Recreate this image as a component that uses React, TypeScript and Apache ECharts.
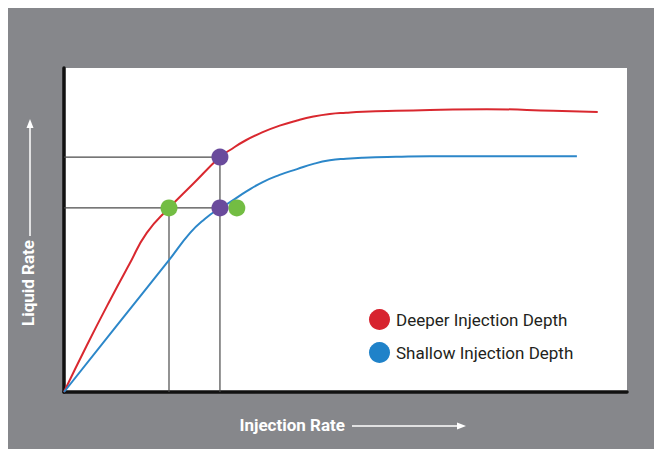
import React, { useEffect, useRef } from "react";
import * as echarts from "echarts";

const deeperCurve: [number, number][] = [
  [0, 0], [4.0, 14.2], [8.2, 28.4], [11.6, 39.4], [14.7, 49.1], [18.65, 56.8],
  [22.9, 64.2], [27.7, 72.5], [29.5, 74.7], [32.3, 77.7], [35.3, 80.2], [38.3, 82.2],
  [41.4, 83.8], [44.3, 85.0], [47.2, 85.8], [50.1, 86.2], [53.1, 86.5], [59.0, 86.8],
  [65.0, 87.0], [75.1, 87.3], [86.9, 86.8], [94.8, 86.4],
];
const shallowCurve: [number, number][] = [
  [0, 0], [9.3, 20.3], [18.65, 40.7], [22.4, 49.1], [25.0, 53.4], [27.7, 56.8],
  [29.5, 58.6], [32.4, 61.9], [35.3, 64.8], [38.3, 67.0], [41.4, 68.8], [44.3, 70.4],
  [47.2, 71.5], [50.1, 72.0], [53.1, 72.3], [59.0, 72.6], [65.0, 72.8], [78.0, 72.8], [91.1, 72.8],
];
const purplePoints: [number, number][] = [[27.7, 72.5], [27.7, 56.8]];
const greenPoints: [number, number][] = [[18.65, 56.8], [30.7, 56.8]];
const guideLines: [number, number][][] = [
  [[0, 72.5], [27.7, 72.5], [27.7, 0]],
  [[0, 56.8], [27.7, 56.8]],
  [[18.65, 56.8], [18.65, 0]],
];
const seriesNames = ["Deeper Injection Depth", "Shallow Injection Depth"];
const axisTitles = { x: "Injection Rate", y: "Liquid Rate" };

const FONT = "Roboto, 'Liberation Sans', sans-serif";

export default function App() {
  const ref = useRef<HTMLDivElement>(null);
  useEffect(() => {
    if (!ref.current) return;
    const chart = echarts.init(ref.current, null, { renderer: "svg" });
    const guideSeries = guideLines.map((g) => ({
      type: "line",
      data: g,
      symbol: "none",
      silent: true,
      lineStyle: { color: "#4a4a4a", width: 1.2 },
      z: 1,
    }));
    chart.setOption({
      animation: false,
      backgroundColor: "#86878b",
      grid: {
        left: 56, right: 35, top: 60, bottom: 57,
        show: true, backgroundColor: "#ffffff", borderWidth: 0,
      },
      xAxis: {
        type: "value", min: 0, max: 100,
        axisLine: { show: true, onZero: false, lineStyle: { color: "#111", width: 3.5 } },
        axisTick: { show: false }, axisLabel: { show: false }, splitLine: { show: false },
      },
      yAxis: {
        type: "value", min: 0, max: 100,
        axisLine: { show: true, onZero: false, lineStyle: { color: "#111", width: 3.5 } },
        axisTick: { show: false }, axisLabel: { show: false }, splitLine: { show: false },
      },
      legend: {
        data: seriesNames,
        orient: "vertical",
        left: 356,
        top: 296,
        icon: "circle",
        itemWidth: 21,
        itemHeight: 21,
        itemGap: 12,
        textStyle: { color: "#231f20", fontSize: 17, fontFamily: FONT, padding: [0, 0, 0, 1] },
      },
      graphic: [
        {
          type: "text", x: 20, y: 232, rotation: Math.PI / 2,
          style: {
            text: axisTitles.y, fill: "#ffffff", fontSize: 17, fontWeight: "bold",
            fontFamily: FONT, align: "right", verticalAlign: "middle",
          },
        },
        { type: "line", shape: { x1: 22, y1: 228, x2: 22, y2: 118 }, style: { stroke: "#fff", lineWidth: 1.5 } },
        { type: "polygon", shape: { points: [[22, 111], [18.5, 120], [25.5, 120]] }, style: { fill: "#fff" } },
        {
          type: "text", x: 337, y: 417,
          style: {
            text: axisTitles.x, fill: "#ffffff", fontSize: 17, fontWeight: "bold",
            fontFamily: FONT, align: "right", verticalAlign: "middle",
          },
        },
        { type: "line", shape: { x1: 344, y1: 418, x2: 451, y2: 418 }, style: { stroke: "#fff", lineWidth: 1.5 } },
        { type: "polygon", shape: { points: [[458, 418], [449, 414.5], [449, 421.5]] }, style: { fill: "#fff" } },
      ],
      series: [
        ...guideSeries,
        {
          name: seriesNames[0], type: "line", data: deeperCurve, symbol: "none",
          smooth: 0.5,
          lineStyle: { color: "#d9282f", width: 2 }, itemStyle: { color: "#d7232f" }, z: 2,
        },
        {
          name: seriesNames[1], type: "line", data: shallowCurve, symbol: "none",
          smooth: 0.5,
          lineStyle: { color: "#2c87c9", width: 2 }, itemStyle: { color: "#1f82c9" }, z: 2,
        },
        {
          type: "scatter", data: greenPoints, symbolSize: 17,
          itemStyle: { color: "#73bd43", opacity: 1 }, z: 4, silent: true,
        },
        {
          type: "scatter", data: purplePoints, symbolSize: 17,
          itemStyle: { color: "#6a4b9c", opacity: 1 }, z: 5, silent: true,
        },
      ],
    });
    return () => chart.dispose();
  }, []);
  return <div ref={ref} style={{ width: 654, height: 441 }} />;
}
